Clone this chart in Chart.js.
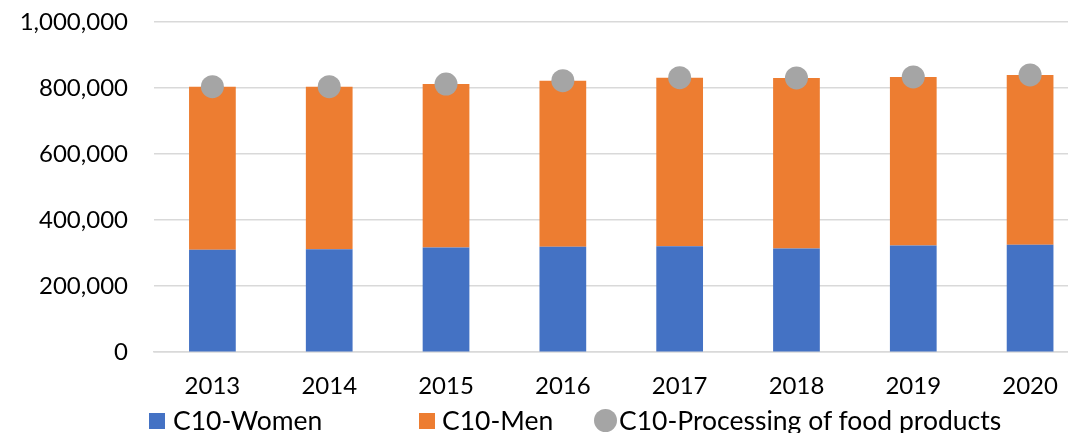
<!DOCTYPE html>
<html>
<head>
<meta charset="utf-8">
<script src="https://cdn.jsdelivr.net/npm/chart.js@4"></script>
<style>
  html, body { margin: 0; padding: 0; background: #fff; overflow: hidden; }
  #wrap { position: relative; width: 1100px; height: 433px; }
  .leg { position: absolute; top: 405px; height: 30px; font-family: Lato, sans-serif; font-size: 26.5px; color: #000; line-height: 30px; white-space: nowrap; }
  .sw { position: absolute; }
</style>
</head>
<body>
<div id="wrap">
  <canvas id="chart" width="1100" height="433"></canvas>
  <div class="leg" style="left:149px"><span class="sw" style="left:0;top:8px;width:16px;height:16px;background:#4472C4"></span><span style="margin-left:24px">C10-Women</span></div>
  <div class="leg" style="left:419px"><span class="sw" style="left:0;top:8px;width:16px;height:16px;background:#ED7D31"></span><span style="margin-left:23px">C10-Men</span></div>
  <div class="leg" style="left:594px"><span class="sw" style="left:0;top:4px;width:23px;height:23px;border-radius:50%;background:#A5A5A5"></span><span style="margin-left:25px">C10-Processing of food products</span></div>
</div>
<script>
// values
const years = ['2013', '2014', '2015', '2016', '2017', '2018', '2019', '2020'];
const women = [309900, 312000, 316900, 319000, 321200, 313900, 323000, 325200];
const men = [494100, 492000, 495300, 503300, 510200, 516600, 510600, 514500];
const total = [804000, 804000, 812200, 822300, 831400, 830500, 833600, 839700];

const font = { family: 'Lato, sans-serif', size: 24 };

new Chart(document.getElementById('chart').getContext('2d'), {
    data: {
        labels: years,
        datasets: [
            {
                type: 'line',
                label: 'C10-Processing of food products',
                data: total,
                showLine: false,
                pointRadius: 11.5,
                pointHoverRadius: 11.5,
                pointBackgroundColor: '#A5A5A5',
                pointBorderWidth: 0,
                borderColor: '#A5A5A5',
                order: 0,
            },
            {
                type: 'bar',
                label: 'C10-Women',
                data: women,
                backgroundColor: '#4472C4',
                categoryPercentage: 1,
                barPercentage: 0.4,
                order: 1,
            },
            {
                type: 'bar',
                label: 'C10-Men',
                data: men,
                backgroundColor: '#ED7D31',
                categoryPercentage: 1,
                barPercentage: 0.4,
                order: 1,
            },
        ],
    },
    options: {
        responsive: false,
        animation: false,
        layout: { padding: { top: 22, right: 2, bottom: 20, left: 0 } },
        plugins: {
            legend: { display: false },
            tooltip: { enabled: false },
        },
        scales: {
            x: {
                stacked: true,
                grid: { display: false },
                border: { color: '#D9D9D9', width: 1.5 },
                ticks: { color: '#000', font, padding: 12 },
            },
            y: {
                stacked: true,
                min: 0,
                max: 1000000,
                afterFit: (scale) => {
                    // fixed axis width; the tick padding should not push the plot down
                    scale.width = 154;
                    scale.paddingTop = 0;
                    scale.paddingBottom = 0;
                },
                grid: { color: '#D9D9D9', lineWidth: 1.5, drawTicks: false },
                border: { display: false },
                ticks: {
                    stepSize: 200000,
                    color: '#000',
                    font,
                    padding: 26,
                    callback: (v) => v.toLocaleString('en-US'),
                },
            },
        },
    },
});
</script>
</body>
</html>
